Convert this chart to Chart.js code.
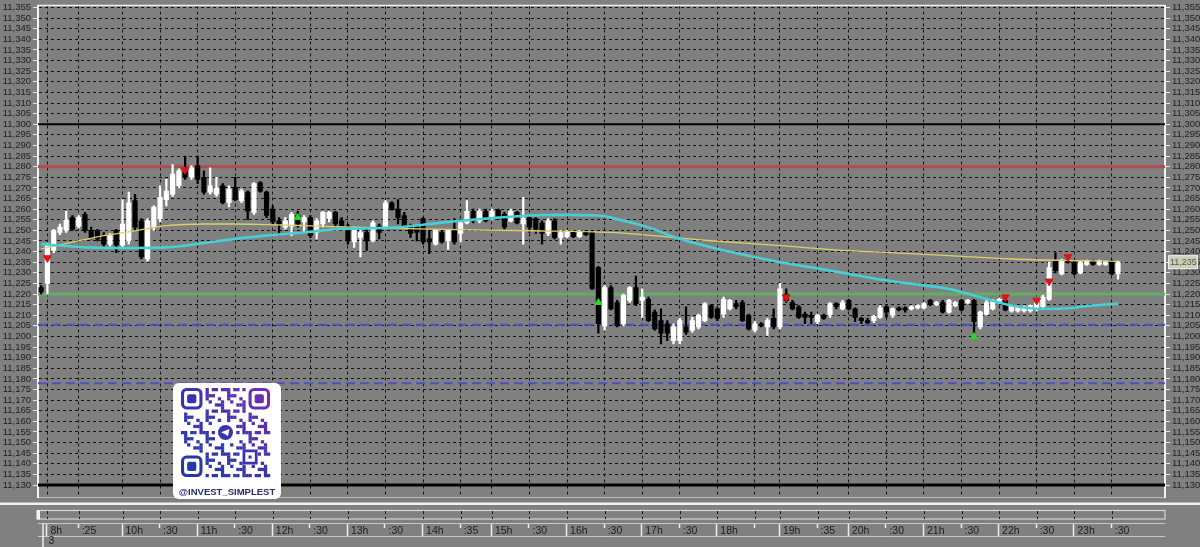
<!DOCTYPE html>
<html>
<head>
<meta charset="utf-8">
<script src="https://cdn.jsdelivr.net/npm/chart.js@4.4.0/dist/chart.umd.min.js"></script>
<style>
  html, body { margin: 0; padding: 0; background: #808080; }
  #wrap { width: 1200px; height: 547px; position: relative; }
</style>
</head>
<body>
<div id="wrap"><canvas id="chart" width="1200" height="547"></canvas></div>
<script>
// ---- data ----
const slotCount = 180;

const openP = [11223,11225,11240.5,11249,11250,11256,11252,11257.5,11250,11249.5,11247.5,11243.5,11250,11243,11245,11264,11254.5,11236.5,11251.5,11255.5,
  11264.5,11267,11271,11279,11275,11280.5,11275,11268,11267,11271,11263,11270,11264,11268,11258.5,11272.5,11268,11260,11254.5,11251.5,
  11252,11257,11254,11256,11249,11253,11255.5,11258.5,11254.5,11252,11244.5,11246.5,11249,11245,11252,11251.5,11263,11260,11257,11252,
  11251.5,11255.5,11246,11243.5,11249,11245,11250.5,11248.5,11253.5,11259,11254.5,11259,11255.5,11259.5,11257.5,11254.5,11258.5,11253,11256,11255.5,
  11253.5,11248.5,11254.5,11246.5,11247,11249,11247,11249.5,11249,11232.5,11205,11223,11216,11206,11217,11223,11217,11217.5,11211.5,11207.5,
  11206,11198,11198,11204.5,11203,11204.5,11207.5,11214.5,11213,11210.5,11213,11215.5,11216,11210,11203,11206,11204.5,11208.5,11204.5,11220,
  11216,11214,11210.5,11210,11207,11210,11210,11215.5,11213,11217,11213,11208.5,11207.5,11207.5,11209,11214,11210,11213.5,11213.5,11213,
  11213.5,11213.5,11217,11215,11216,11211.5,11214.5,11217,11216,11217,11204.5,11210.5,11213,11216,11217,11212,11212,11212,11212,11213,
  11214,11217.5,11235.5,11229.5,11236,11235,11230,11234,11235.5,11234,11234,11235.5,11229.5];
const highP = [11224,11244,11250.5,11253,11259,11257,11257,11258.5,11251.5,11250.5,11249,11248.5,11250.5,11264.5,11268,11267,11255.5,11255.5,11261.5,11271,
  11274,11281,11279,11285,11280.5,11285,11278,11279.5,11275,11272,11271,11275,11269.5,11268.5,11272.5,11273,11268.5,11261.5,11256,11256,
  11258.5,11259,11257,11257,11255.5,11259,11259,11259,11256,11253,11251.5,11250,11250.5,11254.5,11253,11264,11263.5,11264.5,11258.5,11253,
  11252,11256,11250.5,11250.5,11250,11250.5,11255.5,11254.5,11264,11260,11260,11260,11260,11260,11258.5,11260,11259,11265.5,11256.5,11256,
  11254.5,11255.5,11255.5,11250,11250,11249.5,11250,11250,11250,11233,11224,11224,11217,11220,11223.5,11228.5,11222.5,11218.5,11212.5,11213,
  11207.5,11206,11208.5,11214,11209,11210.5,11216,11215,11213.5,11218.5,11217.5,11217,11217,11210.5,11207,11206.5,11208.5,11213,11225,11222.5,
  11217,11214.5,11211.5,11211.5,11210.5,11210.5,11216,11216,11217,11217.5,11213.5,11209,11208.5,11210,11214.5,11214.5,11213.5,11214,11214,11214.5,
  11215,11216,11217.5,11216.5,11217,11217.5,11216.5,11217.5,11217.5,11217.5,11212,11217,11217.5,11218,11219.5,11215,11214.5,11214.5,11215,11217,
  11219.5,11235,11239.5,11236.5,11238,11235.5,11235.5,11236,11236,11236,11235.5,11236,11235.5];
const lowP = [11220,11220,11239.5,11248,11249,11250,11251,11249,11246,11245,11242.5,11242.5,11239.5,11242,11243.5,11250,11236.5,11235.5,11250,11254,
  11261.5,11266,11270,11274,11274,11272,11267,11267,11266,11262.5,11261,11264,11263,11255,11257.5,11268,11256,11253,11247.5,11250.5,
  11247.5,11251.5,11249,11246.5,11246,11251.5,11254,11251.5,11251.5,11243.5,11242,11237.5,11240.5,11244.5,11246,11250.5,11259.5,11253,11251.5,11246.5,
  11245,11243.5,11239,11243,11244,11241,11243.5,11244.5,11253,11253.5,11253.5,11254,11255,11255,11250.5,11254,11253,11243.5,11249,11248.5,
  11243.5,11247.5,11246,11243.5,11246.5,11246.5,11246.5,11247.5,11222,11201.5,11203,11212.5,11204.5,11205,11216,11214.5,11209,11207,11203,11196.5,
  11198,11196.5,11196.5,11201,11202,11203.5,11207,11208.5,11207.5,11209,11212.5,11213,11207,11203,11202,11204.5,11200.5,11203.5,11203.5,11216,
  11212.5,11208.5,11206,11206,11206,11208,11209,11213,11212.5,11212.5,11207,11206,11206,11206.5,11208.5,11209,11209,11212,11211.5,11212.5,
  11213,11213,11214.5,11214.5,11211,11211,11214,11212,11215.5,11201,11203.5,11210,11212.5,11215.5,11212,11211.5,11211.5,11211.5,11211.5,11212,
  11213,11217,11230,11229,11234.5,11229,11229.5,11233.5,11233.5,11233.5,11233.5,11229,11227];
const closeP = [11221,11243,11250,11251.5,11255,11250.5,11256,11250,11246.5,11246,11243.5,11247.5,11243,11253,11263,11251.5,11237.5,11254.5,11261,11265.5,
  11268.5,11276.5,11278,11275,11279.5,11274,11268,11271,11270,11263,11269.5,11264.5,11268.5,11259,11272,11268.5,11257,11254,11253,11254.5,
  11257.5,11253,11256,11247.5,11254.5,11258.5,11258.5,11253,11252,11245,11250.5,11249,11245,11253.5,11249,11263,11260,11256,11252,11248.5,
  11249,11244.5,11244.5,11250,11244.5,11250,11244.5,11253.5,11259,11254.5,11259,11254.5,11259,11255.5,11251.5,11259,11253.5,11255.5,11251.5,11250.5,
  11248.5,11254.5,11246.5,11249,11249.5,11247,11249.5,11248,11222.5,11206,11223,11213,11205,11219.5,11223,11215.5,11218.5,11207.5,11203.5,11201.5,
  11201.5,11204.5,11207.5,11202,11207.5,11210,11215.5,11209,11208.5,11217.5,11217,11214,11207.5,11203.5,11206,11205,11207.5,11204.5,11222.5,11217,
  11213,11209,11209,11209,11210,11208.5,11215.5,11214,11216,11213,11209,11207.5,11206.5,11209.5,11213.5,11211.5,11213,11212.5,11212.5,11214,
  11214.5,11215.5,11215,11216,11211.5,11217,11216,11212.5,11217,11207,11211.5,11216,11217,11217.5,11212.5,11214.5,11214,11214,11214.5,11216,
  11218.5,11232.5,11231,11235.5,11235,11229.5,11235,11235.5,11234,11235.5,11235,11229.5,11235];

// time axis labels at candle slots
const tickIdx  = [1, 6, 13, 19, 25, 31, 37, 43, 49, 55, 61, 67, 72, 78, 84, 90, 96, 102, 108, 114, 118, 124, 129, 135, 141, 147, 153, 159, 165, 171];
const tickText = ['8h', ':25', '10h', ':30', '11h', ':30', '12h', ':30', '13h', ':30', '14h', ':35', '15h', ':30', '16h', ':30', '17h', ':30', '18h', '',
  '19h', ':35', '20h', ':30', '21h', ':30', '22h', ':30', '23h', ':30'];

// moving averages
const cyanIdx = [0, 7, 13, 20, 26, 31, 36, 42, 47, 57, 62, 67, 73, 78, 83, 89, 91, 97, 102, 107, 113, 118, 123, 129, 134, 139, 145, 150, 155, 160, 164, 168, 172];
const cyanVal = [11243.5, 11242, 11241.7, 11242, 11244, 11246, 11247.5, 11249, 11250.5, 11251.4, 11253, 11254.5, 11256, 11257, 11257.3, 11257, 11256, 11251.4, 11246, 11242,
  11238, 11235, 11232.6, 11229.5, 11226.8, 11224.8, 11222.4, 11218.5, 11214.6, 11213, 11213.3, 11214.6, 11215.4];
const yellowIdx = [0, 5, 10, 15, 20, 26, 31, 36, 42, 47, 62, 78, 91, 107, 118, 129, 137, 145, 155, 166, 172];
const yellowVal = [11241.3, 11244.4, 11247.5, 11249.8, 11252.2, 11253, 11253, 11252.7, 11252.2, 11251.7, 11250.6, 11249.8, 11249, 11245.1, 11242.8, 11240.4, 11239.3, 11238.1, 11236.5, 11235.7, 11235.4];

// signal markers
const sellIdx = [1, 23, 119, 154, 159, 161, 164];
const sellVal = [11237, 11278.5, 11218.5, 11218.5, 11217, 11226, 11237.5];
const buyIdx = [41, 89, 149];
const buyVal = [11256, 11216, 11200];

// horizontal levels
const levelPrices = [11300, 11280, 11220, 11205.5, 11178, 11130];
const lastPrice = 11235;
const axisTop = 11355, axisBottom = 11130, axisStep = 5;

// ---- helpers ----
const levelColor = ['#000000', '#b64a4a', '#62ad62', '#4a52c4', '#4a52c4', '#000000'];
const levelWidth = [2, 3, 3, 2, 2, 3];
const levelDash = [[], [], [], [9, 5], [9, 5], []];

function sparse(idx, vals) {
  const arr = new Array(slotCount).fill(null);
  idx.forEach((k, j) => { arr[k] = vals[j]; });
  return arr;
}
function fmtPrice(v) {
  const whole = Math.floor(v / 1000);
  return whole + ',' + String(Math.round(v - whole * 1000)).padStart(3, '0');
}

const labels = Array.from({length: slotCount}, (_, i) => String(i));
const tickMap = {};
tickIdx.forEach((k, j) => { tickMap[k] = tickText[j]; });
const candleCol = openP.map((o, i) => closeP[i] >= o ? '#ffffff' : '#000000');

const fontFamily = "'Liberation Sans Narrow', 'Liberation Sans', Arial, sans-serif";
const axisFont = { family: fontFamily, size: 9.5, lineHeight: 1 };
const timeFont = { family: fontFamily, size: 10.5, lineHeight: 1 };
const pxPerUnit = 479 / (axisTop - axisBottom);

// levels under the candles
const levelPlugin = {
  id: 'levels',
  beforeDatasetsDraw(chart) {
    const {ctx, chartArea, scales: {y}} = chart;
    ctx.save();
    levelPrices.forEach((p, i) => {
      const py = y.getPixelForValue(p);
      ctx.strokeStyle = levelColor[i];
      ctx.lineWidth = levelWidth[i];
      ctx.setLineDash(levelDash[i]);
      ctx.beginPath();
      ctx.moveTo(chartArea.left, py);
      ctx.lineTo(chartArea.right, py);
      ctx.stroke();
    });
    ctx.restore();
  }
};

function drawQr(ctx) {
  const bx = 173, by = 383, bw = 108, bh = 116;
  ctx.save();
  ctx.fillStyle = '#ffffff';
  ctx.beginPath();
  ctx.roundRect(bx, by, bw, bh, 6);
  ctx.fill();

  const ox = 181, oy = 388, m = 3.07, n = 29;
  const grad = ctx.createLinearGradient(ox, oy + n * m, ox + n * m, oy);
  grad.addColorStop(0, '#1f3aa6');
  grad.addColorStop(0.5, '#3a34ae');
  grad.addColorStop(1, '#7b2cb6');
  ctx.fillStyle = grad;
  ctx.strokeStyle = grad;

  const inFinder = (r, c) => (r < 8 && c < 8) || (r < 8 && c > 20) || (r > 20 && c < 8);
  for (let r = 0; r < n; r++) {
    for (let c = 0; c < n; c++) {
      if (inFinder(r, c)) continue;
      if (r >= 11 && r <= 17 && c >= 11 && c <= 17) continue;
      if (r >= 20 && r <= 24 && c >= 20 && c <= 24) continue;
      const on = ((r * r * 3 + c * 7 + r * c * 5 + c * c) % 7) < 3;
      if (on) ctx.fillRect(ox + c * m, oy + r * m, m + 0.2, m + 0.2);
    }
  }
  // finder patterns
  [[0, 0], [0, 22], [22, 0]].forEach(([r, c]) => {
    const x = ox + c * m, y0 = oy + r * m;
    ctx.lineWidth = m;
    ctx.beginPath();
    ctx.roundRect(x + m / 2, y0 + m / 2, 6 * m, 6 * m, 4);
    ctx.stroke();
    ctx.beginPath();
    ctx.roundRect(x + 2 * m, y0 + 2 * m, 3 * m, 3 * m, 2);
    ctx.fill();
  });
  // alignment pattern
  ctx.lineWidth = m * 0.9;
  ctx.beginPath();
  ctx.rect(ox + 20.5 * m, oy + 20.5 * m, 4 * m, 4 * m);
  ctx.stroke();
  ctx.fillRect(ox + 22 * m, oy + 22 * m, m, m);
  // telegram badge
  const cx = ox + 14.5 * m, cy = oy + 14.5 * m;
  ctx.beginPath();
  ctx.arc(cx, cy, 7.5, 0, Math.PI * 2);
  ctx.fill();
  ctx.fillStyle = '#ffffff';
  ctx.beginPath();
  ctx.moveTo(cx - 4.5, cy - 0.2);
  ctx.lineTo(cx + 4, cy - 3.6);
  ctx.lineTo(cx + 2.4, cy + 3.8);
  ctx.lineTo(cx - 0.6, cy + 1.4);
  ctx.closePath();
  ctx.fill();

  ctx.fillStyle = '#272d6c';
  ctx.font = "bold 9.5px 'Liberation Sans', Arial, sans-serif";
  ctx.textAlign = 'center';
  ctx.textBaseline = 'middle';
  ctx.fillText('@INVEST_SIMPLEST', bx + bw / 2, 492.5);
  ctx.restore();
}

const decorPlugin = {
  id: 'decor',
  afterDraw(chart) {
    const {ctx, chartArea, scales: {x, y}} = chart;
    const L = chartArea.left, R = chartArea.right;
    ctx.save();
    // top frame
    ctx.strokeStyle = '#f0f0f0';
    ctx.lineWidth = 1.5;
    ctx.beginPath(); ctx.moveTo(L, chartArea.top); ctx.lineTo(R, chartArea.top); ctx.stroke();

    // separator under the plot
    ctx.fillStyle = '#f2f2f2';
    ctx.fillRect(0, 502.5, 1200, 2.5);

    // scroll strip
    ctx.strokeStyle = '#d6d6d6';
    ctx.lineWidth = 1.2;
    ctx.strokeRect(L, 510.5, R - L, 8.5);
    ctx.fillStyle = '#f4f4f4';
    ctx.fillRect(L - 1.5, 510, 3.5, 9.5);
    ctx.strokeStyle = '#141414';
    ctx.lineWidth = 1;
    ctx.setLineDash([3, 3]);
    tickIdx.forEach(k => {
      const px = Math.round(x.getPixelForValue(k)) + 0.5;
      ctx.beginPath(); ctx.moveTo(px, 511); ctx.lineTo(px, 519); ctx.stroke();
    });
    ctx.setLineDash([]);

    // label row
    ctx.strokeStyle = '#c9c9c9';
    ctx.beginPath(); ctx.moveTo(L, 523.5); ctx.lineTo(R, 523.5); ctx.stroke();
    ctx.beginPath(); ctx.moveTo(L, 536.5); ctx.lineTo(R, 536.5); ctx.stroke();
    ctx.strokeStyle = '#eeeeee';
    ctx.lineWidth = 1.5;
    ctx.beginPath(); ctx.moveTo(L + 5, 523); ctx.lineTo(L + 5, 547); ctx.stroke();
    tickIdx.forEach((k, j) => {
      const px = Math.round(x.getPixelForValue(k)) - 0.5;
      const full = /h$/.test(tickText[j]);
      ctx.beginPath(); ctx.moveTo(px, 524); ctx.lineTo(px, full ? 536 : 528); ctx.stroke();
    });
    ctx.fillStyle = '#1c1c1c';
    ctx.font = "10.5px " + fontFamily;
    ctx.textAlign = 'left';
    ctx.textBaseline = 'middle';
    ctx.fillText('3', x.getPixelForValue(tickIdx[0]) + 1, 541.5);

    // last price tag
    const py = y.getPixelForValue(lastPrice);
    ctx.fillStyle = '#cdcdbd';
    ctx.fillRect(R + 3, py - 7, 30, 14);
    ctx.strokeStyle = '#ececec';
    ctx.lineWidth = 1;
    ctx.strokeRect(R + 3.5, py - 6.5, 29, 13);
    ctx.fillStyle = '#55554a';
    ctx.font = "9px " + fontFamily;
    ctx.fillText(fmtPrice(lastPrice), R + 5, py + 0.5);

    drawQr(ctx);
    ctx.restore();
  }
};

const yCommon = {
  type: 'linear',
  min: axisBottom - 12 / pxPerUnit,
  max: axisTop + 2 / pxPerUnit,
  afterBuildTicks: s => {
    const t = [];
    for (let v = axisBottom; v <= axisTop; v += axisStep) t.push({ value: v });
    s.ticks = t;
  },
  ticks: {
    stepSize: axisStep, maxTicksLimit: 100, autoSkip: false, padding: 2,
    color: '#1e1e1e', font: axisFont,
    callback: v => fmtPrice(v)
  }
};

new Chart(document.getElementById('chart'), {
  data: {
    labels: labels,
    datasets: [
      {
        type: 'bar', label: 'wick', order: 4, grouped: false,
        data: lowP.map((l, i) => [l, highP[i]]),
        backgroundColor: candleCol, barThickness: 1.6
      },
      {
        type: 'bar', label: 'body', order: 3, grouped: false,
        data: openP.map((o, i) => [Math.min(o, closeP[i]), Math.max(o, closeP[i])]),
        backgroundColor: candleCol, barThickness: 4.5, minBarLength: 1.5
      },
      {
        type: 'line', label: 'slow', order: 2,
        data: sparse(yellowIdx, yellowVal), spanGaps: true,
        borderColor: '#d9d16a', borderWidth: 1.3, pointRadius: 0, cubicInterpolationMode: 'monotone'
      },
      {
        type: 'line', label: 'fast', order: 1,
        data: sparse(cyanIdx, cyanVal), spanGaps: true,
        borderColor: '#45cfd6', borderWidth: 2.6, pointRadius: 0, cubicInterpolationMode: 'monotone'
      },
      {
        type: 'line', label: 'sell', order: 0, showLine: false,
        data: sparse(sellIdx, sellVal),
        pointStyle: 'triangle', rotation: 180, pointRadius: 4.5,
        backgroundColor: '#e01414', borderColor: '#e01414'
      },
      {
        type: 'line', label: 'buy', order: 0, showLine: false,
        data: sparse(buyIdx, buyVal),
        pointStyle: 'triangle', pointRadius: 4,
        backgroundColor: '#22dd22', borderColor: '#22dd22'
      }
    ]
  },
  options: {
    responsive: false,
    animation: false,
    layout: { padding: { top: 4, left: 0, right: 0, bottom: 0 } },
    plugins: { legend: { display: false }, tooltip: { enabled: false } },
    scales: {
      x: {
        type: 'category', offset: true,
        grid: {
          offset: false, drawTicks: false, lineWidth: 1,
          color: ctx => (ctx.index in tickMap) ? '#141414' : 'rgba(0,0,0,0)'
        },
        border: { display: true, color: '#bdbdbd', width: 1, dash: [3, 3] },
        ticks: {
          autoSkip: false, maxRotation: 0, minRotation: 0, align: 'start', labelOffset: 3, padding: 29,
          color: '#1c1c1c', font: timeFont,
          callback: (v, i) => tickMap[i] !== undefined ? tickMap[i] : ''
        },
        afterFit: s => { s.height = 50; s.paddingLeft = 0; s.paddingRight = 0; }
      },
      y: Object.assign({}, yCommon, {
        position: 'left',
        grid: { color: '#141414', lineWidth: 1, drawTicks: true, tickLength: 5, tickColor: '#e6e6e6', tickBorderDash: [] },
        border: { color: '#f4f4f4', width: 2, dash: [3, 3] },
        afterFit: s => { s.width = 38; s.paddingTop = 0; s.paddingBottom = 0; }
      }),
      y2: Object.assign({}, yCommon, {
        position: 'right',
        grid: { drawOnChartArea: false, drawTicks: true, tickLength: 5, tickColor: '#e6e6e6' },
        border: { color: '#f4f4f4', width: 2 },
        afterFit: s => { s.width = 35; s.paddingTop = 0; s.paddingBottom = 0; }
      })
    }
  },
  plugins: [levelPlugin, decorPlugin]
});
</script>
</body>
</html>
